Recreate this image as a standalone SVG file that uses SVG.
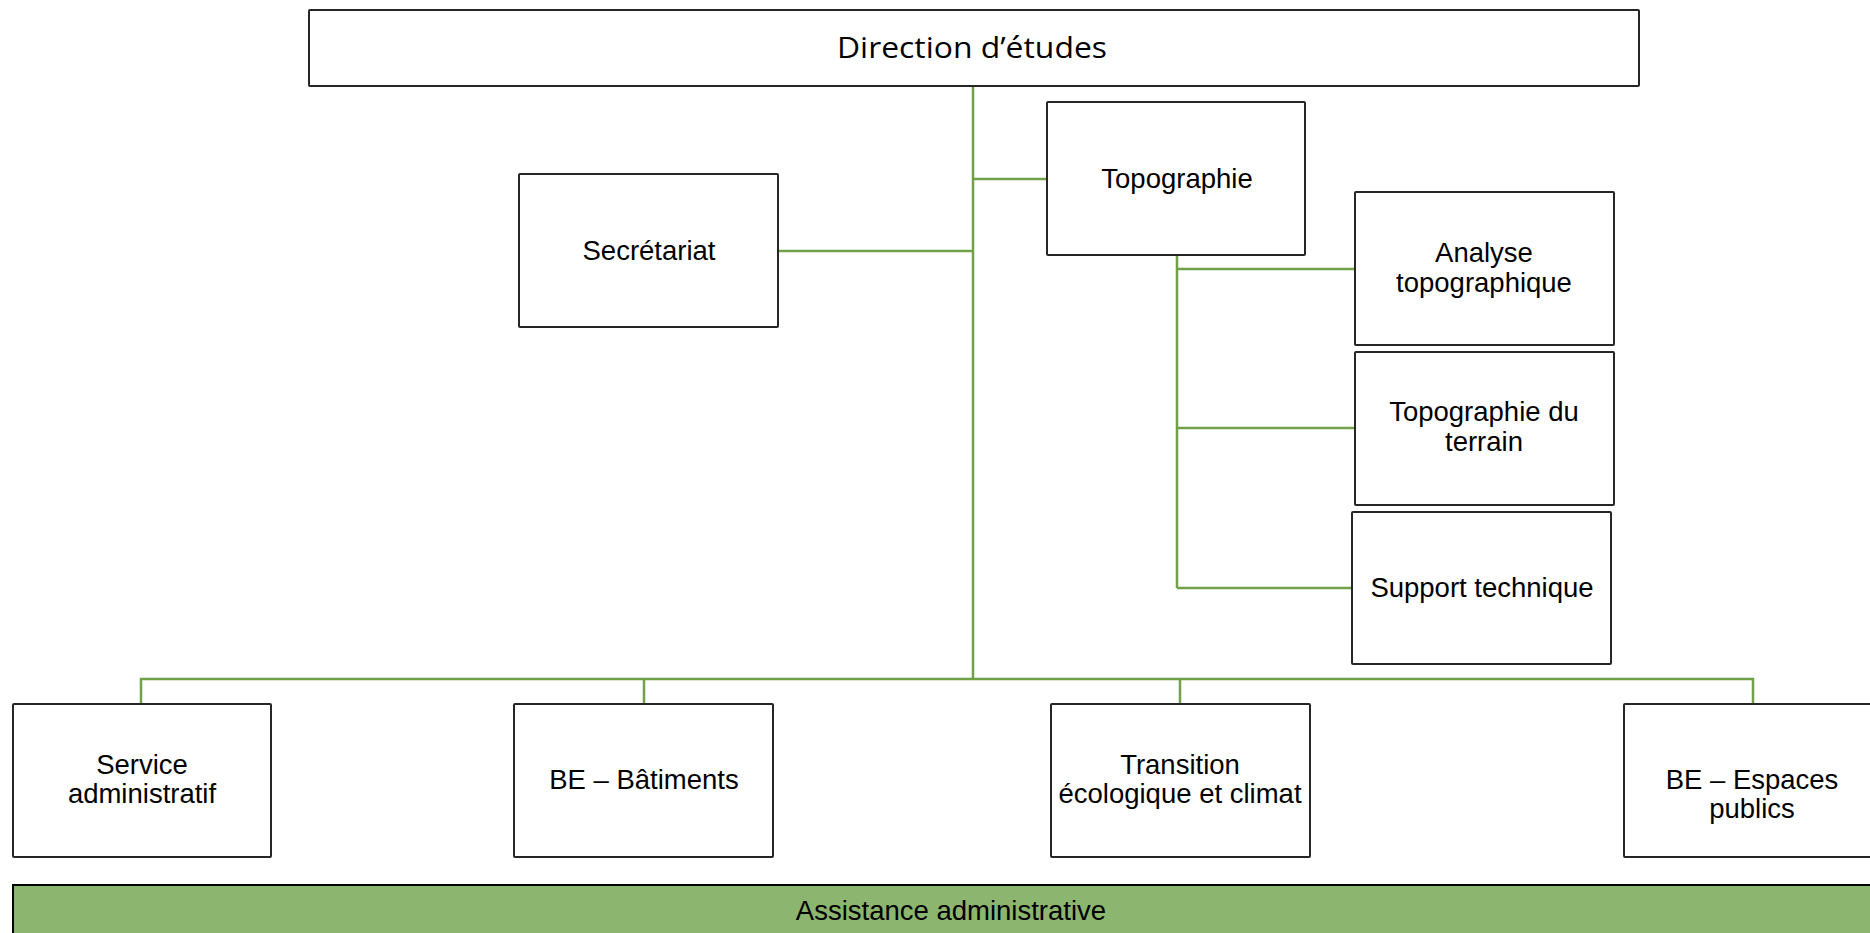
<svg xmlns="http://www.w3.org/2000/svg" width="1870" height="933" viewBox="0 0 1870 933">
<style>
.box{fill:#fff;stroke:#262626;stroke-width:2}
.t{font-family:"Liberation Sans",Arial,sans-serif;font-size:27.5px;fill:#000;text-anchor:middle}
.con{fill:none;stroke:#70a047;stroke-width:2.5}
</style>
<rect width="1870" height="933" fill="#fff"/>
<g id="connectors" class="con">
<path d="M973 86V679"/>
<path d="M778 251H973"/>
<path d="M973 179H1047"/>
<path d="M1177 255V588"/>
<path d="M1177 269H1355"/>
<path d="M1177 428H1355"/>
<path d="M1177 588H1352"/>
<path d="M141 704V679H1753V704"/>
<path d="M644 679V704"/>
<path d="M1180 679V704"/>
</g>
<g id="direction"><rect class="box" x="309" y="10" width="1330" height="76" rx="1"/><text x="837" y="58" textLength="270" lengthAdjust="spacingAndGlyphs" style="font-family:'Open Sans',Lato,sans-serif;font-size:29px">Direction d’études</text></g>
<g id="secretariat"><rect class="box" x="519" y="174" width="259" height="153" rx="1"/><text class="t" x="649" y="260">Secrétariat</text></g>
<g id="topographie"><rect class="box" x="1047" y="102" width="258" height="153" rx="1"/><text class="t" x="1177" y="188">Topographie</text></g>
<g id="analyse"><rect class="box" x="1355" y="192" width="259" height="153" rx="1"/><text class="t" x="1484" y="262">Analyse</text><text class="t" x="1484" y="292">topographique</text></g>
<g id="terrain"><rect class="box" x="1355" y="352" width="259" height="153" rx="1"/><text class="t" x="1484" y="421">Topographie du</text><text class="t" x="1484" y="451">terrain</text></g>
<g id="support"><rect class="box" x="1352" y="512" width="259" height="152" rx="1"/><text class="t" x="1482" y="597">Support technique</text></g>
<g id="service"><rect class="box" x="13" y="704" width="258" height="153" rx="1"/><text class="t" x="142" y="774">Service</text><text class="t" x="142" y="803">administratif</text></g>
<g id="batiments"><rect class="box" x="514" y="704" width="259" height="153" rx="1"/><text class="t" x="644" y="789">BE – Bâtiments</text></g>
<g id="transition"><rect class="box" x="1051" y="704" width="259" height="153" rx="1"/><text class="t" x="1180" y="774">Transition</text><text class="t" x="1180" y="803">écologique et climat</text></g>
<g id="espaces"><rect class="box" x="1624" y="704" width="260" height="153" rx="1"/><text class="t" x="1752" y="789">BE – Espaces</text><text class="t" x="1752" y="818">publics</text></g>
<g id="assistance"><rect x="13" y="885" width="1870" height="60" fill="#8cb56f" stroke="#000" stroke-width="2"/><text class="t" x="951" y="920">Assistance administrative</text></g>
</svg>
